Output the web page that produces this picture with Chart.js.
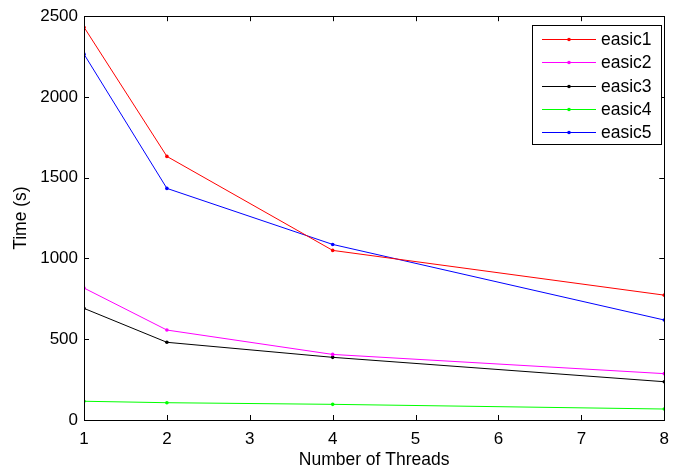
<!DOCTYPE html>
<html><head><meta charset="utf-8">
<script src="https://cdn.jsdelivr.net/npm/chart.js@4/dist/chart.umd.min.js"></script>
<style>html,body{margin:0;padding:0;background:#fff}#wrap{width:678px;height:471px}</style>
</head><body><div id="wrap"><canvas id="c" width="678" height="471"></canvas></div>
<script>
const threads = [1, 2, 4, 8];
const easic1 = [2432, 1632, 1050, 773];
const easic2 = [817, 557, 406, 287];
const easic3 = [691, 481, 388, 237];
const easic4 = [116, 107, 97, 68];
const easic5 = [2265, 1434, 1087, 619];
const seriesNames = ['easic1', 'easic2', 'easic3', 'easic4', 'easic5'];
const seriesValues = [easic1, easic2, easic3, easic4, easic5];
const seriesColors = ['#ff0000', '#ff00ff', '#000000', '#00ff00', '#0000ff'];
const xTicks = [1, 2, 3, 4, 5, 6, 7, 8];
const yTicks = [0, 500, 1000, 1500, 2000, 2500];
const FONT = 'Liberation Sans, Arial, sans-serif';

const datasets = seriesNames.map((n, i) => ({
  label: n,
  data: threads.map((t, j) => ({x: t, y: seriesValues[i][j]})),
  borderColor: seriesColors[i],
  backgroundColor: seriesColors[i],
  borderWidth: 1,
  pointRadius: 1.8,
  pointBorderWidth: 0,
  pointHoverRadius: 2,
  tension: 0
}));

const boxPlugin = {
  id: 'box',
  afterDraw(chart) {
    const ctx = chart.ctx, a = chart.chartArea;
    const xs = chart.scales.x, ys = chart.scales.y;
    ctx.save();
    ctx.strokeStyle = '#000';
    ctx.lineWidth = 1;
    ctx.strokeRect(Math.round(a.left) + 0.5, Math.round(a.top) + 0.5, Math.round(a.right - a.left), Math.round(a.bottom - a.top));
    const L = 5;
    ctx.beginPath();
    xTicks.forEach(v => {
      const p = Math.round(xs.getPixelForValue(v)) + 0.5;
      ctx.moveTo(p, a.bottom); ctx.lineTo(p, a.bottom - L);
      ctx.moveTo(p, a.top); ctx.lineTo(p, a.top + L);
    });
    yTicks.forEach(v => {
      const p = Math.round(ys.getPixelForValue(v)) + 0.5;
      ctx.moveTo(a.left, p); ctx.lineTo(a.left + L, p);
      ctx.moveTo(a.right, p); ctx.lineTo(a.right - L, p);
    });
    ctx.stroke();
    // legend
    const lx = 532, ly = 25, lw = 129, lh = 119;
    ctx.fillStyle = '#fff';
    ctx.fillRect(lx, ly, lw, lh);
    ctx.strokeStyle = '#000';
    ctx.strokeRect(lx + 0.5, ly + 0.5, lw, lh);
    ctx.font = '17.5px ' + FONT;
    ctx.textBaseline = 'middle';
    chart.data.datasets.forEach((d, i) => {
      const y = Math.round(ly + 14 + i * 23.3) + 0.5;
      ctx.strokeStyle = d.borderColor;
      ctx.beginPath(); ctx.moveTo(542, y); ctx.lineTo(596, y); ctx.stroke();
      ctx.fillStyle = d.borderColor;
      ctx.beginPath(); ctx.arc(569, y, 1.8, 0, Math.PI * 2); ctx.fill();
      ctx.fillStyle = '#000';
      ctx.fillText(d.label, 601, y + 1);
    });
    ctx.restore();
  }
};

new Chart(document.getElementById('c'), {
  type: 'line',
  data: {datasets},
  plugins: [boxPlugin],
  options: {
    responsive: false,
    animation: false,
    layout: {padding: {top: 16, right: 8, left: 0, bottom: 0}},
    plugins: {legend: {display: false}, tooltip: {enabled: false}},
    scales: {
      x: {
        type: 'linear', min: 1, max: 8,
        afterBuildTicks: s => { s.ticks = xTicks.map(v => ({value: v})); },
        afterFit: s => { s.height = 51; },
        grid: {display: false, drawTicks: false},
        border: {display: false},
        ticks: {color: '#000', font: {family: FONT, size: 17}, padding: 9, maxRotation: 0, callback: v => String(v)},
        title: {display: true, text: 'Number of Threads', color: '#000', font: {family: FONT, size: 17.5}, padding: {top: 0, bottom: 0}}
      },
      y: {
        min: 0, max: 2500,
        afterBuildTicks: s => { s.ticks = yTicks.map(v => ({value: v})); },
        afterFit: s => { s.width = 84; },
        grid: {display: false, drawTicks: false},
        border: {display: false},
        ticks: {color: '#000', font: {family: FONT, size: 17}, padding: 6, callback: v => String(v)},
        title: {display: true, text: 'Time (s)', color: '#000', font: {family: FONT, size: 17.5}, padding: {top: 11, bottom: 0}}
      }
    }
  }
});
</script></body></html>
